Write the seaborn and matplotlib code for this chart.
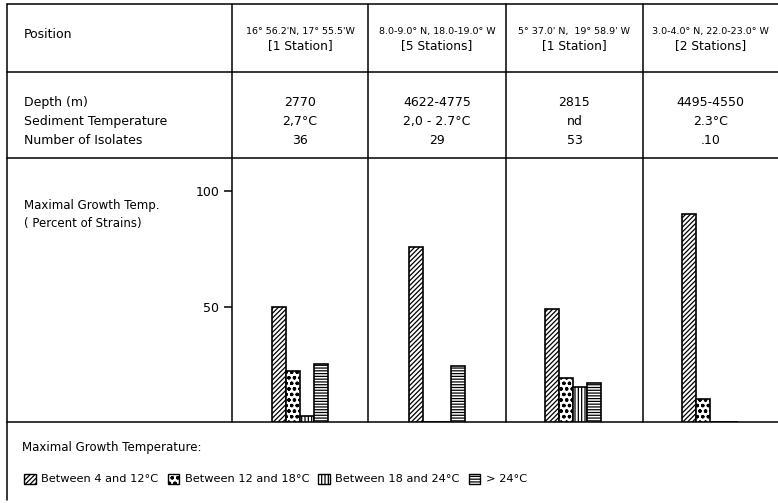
import numpy as np
import pandas as pd
import matplotlib
matplotlib.use("Agg")
import matplotlib.pyplot as plt
import seaborn as sns
from matplotlib.patches import Patch

# Table values
row_labels = ["Depth (m)", "Sediment Temperature", "Number of Isolates"]
positions = ["16° 56.2'N, 17° 55.5'W", "8.0-9.0° N, 18.0-19.0° W",
             "5° 37.0' N,  19° 58.9' W", "3.0-4.0° N, 22.0-23.0° W"]
stations = ["[1 Station]", "[5 Stations]", "[1 Station]", "[2 Stations]"]
depths = ["2770", "4622-4775", "2815", "4495-4550"]
sediment_temp = ["2,7°C", "2,0 - 2.7°C", "nd", "2.3°C"]
isolates = ["36", "29", "53", ".10"]

# Percent of strains per maximal growth temperature class
temp_classes = ["Between 4 and 12°C", "Between 12 and 18°C",
                "Between 18 and 24°C", "> 24°C"]
between_4_12 = [50.0, 75.9, 49.1, 90.0]
between_12_18 = [22.2, 0.0, 18.9, 10.0]
between_18_24 = [2.8, 0.0, 15.1, 0.0]
above_24 = [25.0, 24.1, 17.0, 0.0]

sns.set_style("white")
plt.rcParams["font.family"] = ["DejaVu Sans"]
plt.rcParams["text.color"] = "black"
plt.rcParams["ytick.color"] = "black"
plt.rcParams["hatch.linewidth"] = 0.9

W, H = 778, 503
fig = plt.figure(figsize=(W / 100, H / 100), dpi=100)

# overlay axes in pixel coordinates for the table frame
tab = fig.add_axes([0, 0, 1, 1])
tab.set_xlim(0, W)
tab.set_ylim(H, 0)
tab.axis("off")

col_edges = [232, 368, 506, 643, W]
centers = [(a + b) / 2 for a, b in zip(col_edges[:-1], col_edges[1:])]
lw = 1.1
tab.plot([7, W], [4, 4], color="black", lw=lw)
tab.plot([7, W], [72, 72], color="black", lw=lw)
tab.plot([7, W], [158, 158], color="black", lw=lw)
tab.plot([7, W], [422, 422], color="black", lw=lw)
tab.plot([7, 7], [4, 500], color="black", lw=lw)
for x in col_edges[:-1]:
    tab.plot([x, x], [4, 422], color="black", lw=lw)

fs = 9
tab.text(24, 34, "Position", fontsize=fs, va="center")
for i, c in enumerate(centers):
    tab.text(c, 31, positions[i], fontsize=6.8, ha="center", va="center")
    tab.text(c, 46, stations[i], fontsize=8.8, ha="center", va="center")

row_y = [102, 121, 140]
row_vals = [depths, sediment_temp, isolates]
for y, lab, vals in zip(row_y, row_labels, row_vals):
    tab.text(24, y, lab, fontsize=fs, va="center")
    for c, v in zip(centers, vals):
        tab.text(c, y, v, fontsize=fs, ha="center", va="center")

tab.text(24, 205, "Maximal Growth Temp.", fontsize=8.5, va="center")
tab.text(24, 223, "( Percent of Strains)", fontsize=8.5, va="center")

# bar chart
df = pd.DataFrame({
    "site": np.repeat(np.arange(4), 4),
    "cls": temp_classes * 4,
    "pct": np.array([between_4_12, between_12_18, between_18_24, above_24]).T.ravel(),
})

ax = fig.add_axes([232 / W, (H - 422) / H, (W - 232) / W, (422 - 158) / H])
ax.set_zorder(2)
ax.patch.set_alpha(0)
sns.barplot(data=df, x="site", y="pct", hue="cls", hue_order=temp_classes,
            palette=["white"] * 4, width=0.41, edgecolor="black",
            linewidth=1.2, legend=False, ax=ax)
hatches = ["///////", "ooo", "|||||", "------"]
for cont, h in zip(ax.containers, hatches):
    for bar in cont:
        bar.set_hatch(h)

ax.set_xlim(-0.5, 3.5)
ax.set_ylim(0, (422 - 158) / 2.31)
ax.set_yticks([50, 100])
ax.set_yticklabels(["50", "100"], fontsize=9)
ax.set_xticks([])
ax.set_xlabel("")
ax.set_ylabel("")
ax.tick_params(axis="y", direction="out", length=6, width=1.1, left=True, pad=3)
for s in ax.spines.values():
    s.set_visible(False)

# legend
tab.text(22, 448, "Maximal Growth Temperature:", fontsize=8.5, va="center")
handles = [Patch(facecolor="white", edgecolor="black", hatch=h, lw=1.0)
           for h in hatches]
fig.legend(handles, temp_classes, loc="center left", ncol=4,
           bbox_to_anchor=(14 / W, 1 - 479 / H), frameon=False,
           fontsize=8.2, handlelength=1.0, handleheight=1.0,
           handletextpad=0.5, columnspacing=0.8)

fig.savefig("out.png", dpi=100)
